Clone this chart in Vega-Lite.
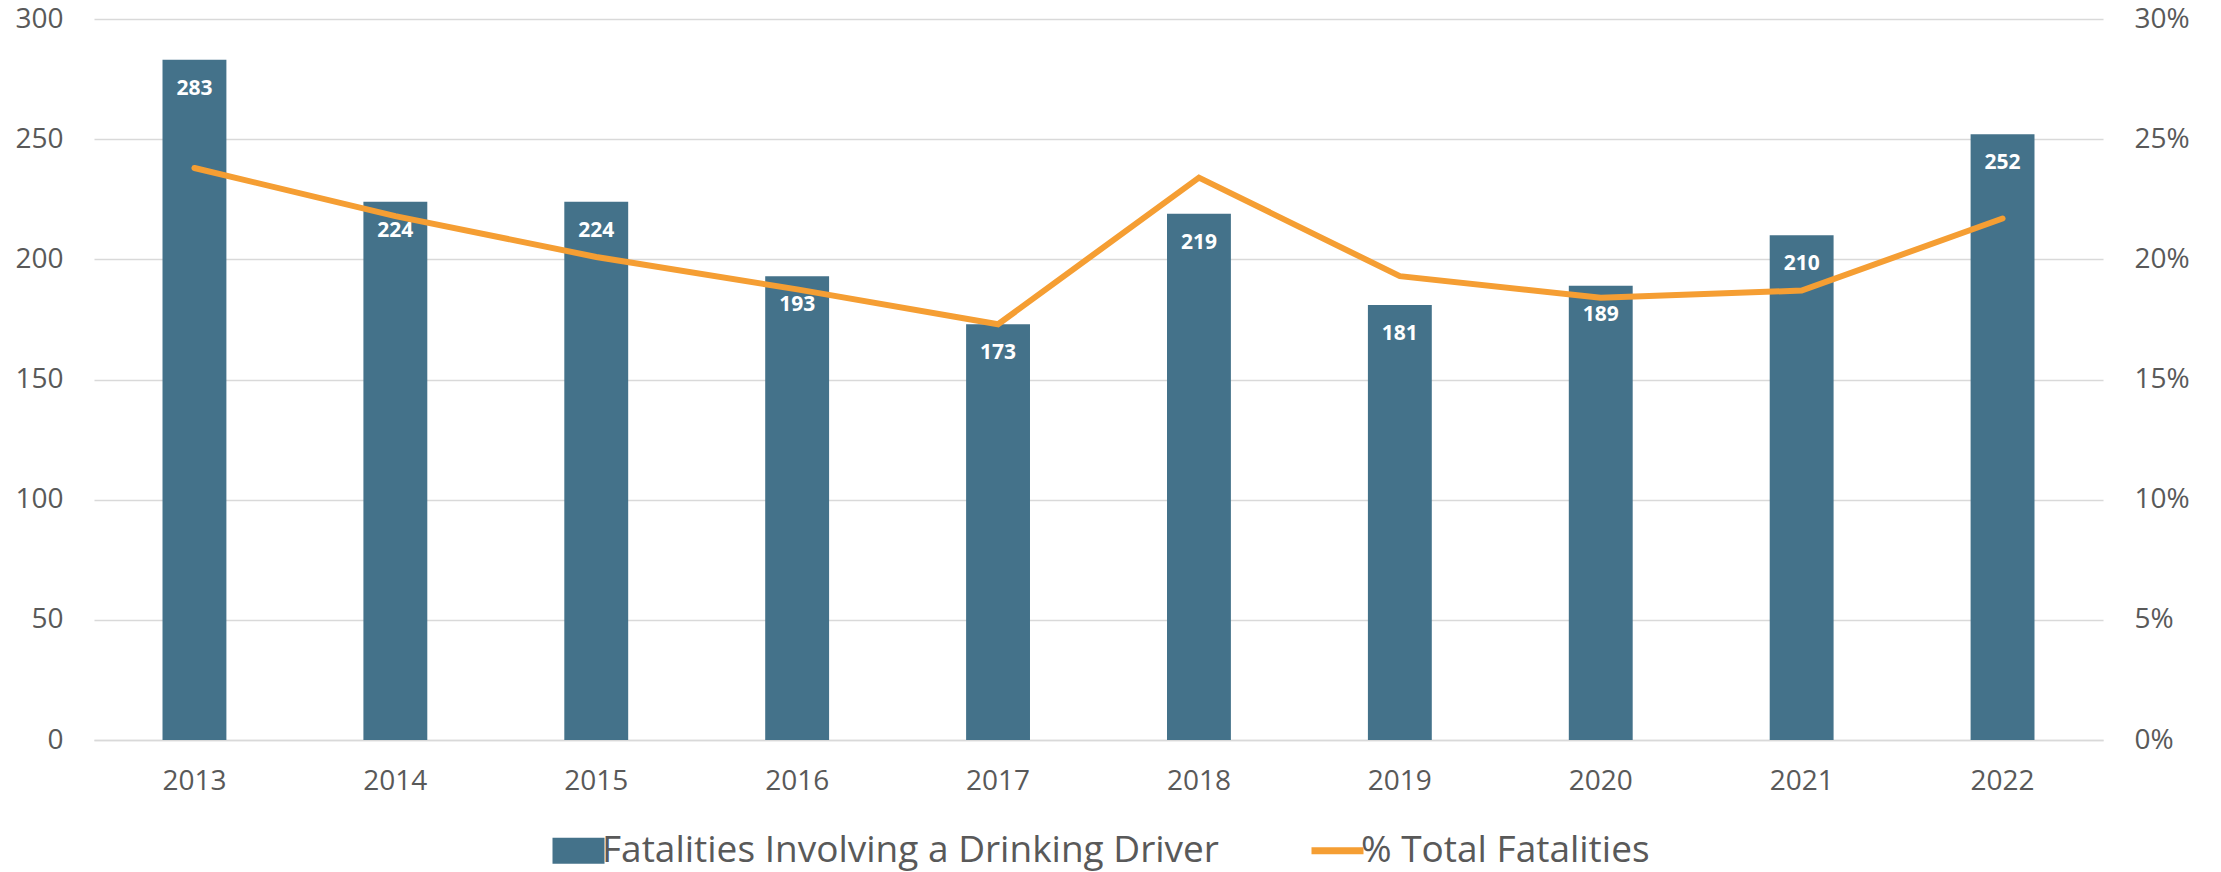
{
  "$schema": "https://vega.github.io/schema/vega-lite/v6.json",
  "width": 2009,
  "height": 721,
  "autosize": {"type": "none"},
  "padding": {"left": 94, "top": 19, "right": 118, "bottom": 132},
  "background": "white",
  "config": {
    "view": {"stroke": null},
    "font": "Open Sans",
    "axis": {"labelFont": "Open Sans", "labelColor": "#595959", "labelFontSize": 28, "ticks": false, "domain": false, "title": null}
  },
  "data": {
    "values": [
      {"year": "2013", "fatalities": 283, "pct": 0.238},
      {"year": "2014", "fatalities": 224, "pct": 0.218},
      {"year": "2015", "fatalities": 224, "pct": 0.201},
      {"year": "2016", "fatalities": 193, "pct": 0.1875},
      {"year": "2017", "fatalities": 173, "pct": 0.173},
      {"year": "2018", "fatalities": 219, "pct": 0.234},
      {"year": "2019", "fatalities": 181, "pct": 0.193},
      {"year": "2020", "fatalities": 189, "pct": 0.184},
      {"year": "2021", "fatalities": 210, "pct": 0.187},
      {"year": "2022", "fatalities": 252, "pct": 0.217}
    ]
  },
  "encoding": {
    "x": {
      "field": "year",
      "type": "ordinal",
      "scale": {"paddingInner": 0.682, "paddingOuter": 0.341},
      "axis": {"labelAngle": 0, "labelPadding": 27, "domain": true, "domainColor": "#d9d9d9", "domainWidth": 1.5}
    }
  },
  "layer": [
    {
      "layer": [
        {
          "mark": {"type": "bar"},
          "encoding": {
            "y": {
              "field": "fatalities",
              "type": "quantitative",
              "scale": {"domain": [0, 300]},
              "axis": {"values": [0, 50, 100, 150, 200, 250, 300], "grid": true, "gridColor": "#d9d9d9", "gridWidth": 1.5, "labelPadding": 31}
            },
            "color": {
              "datum": "Fatalities Involving a Drinking Driver",
              "type": "nominal",
              "scale": {"domain": ["Fatalities Involving a Drinking Driver", "% Total Fatalities"], "range": ["#44728A", "#F59E33"]},
              "legend": {
                "orient": "none",
                "legendX": 466,
                "legendY": 813,
                "direction": "horizontal",
                "title": null,
                "symbolType": "M-1,-0.5H1V0.5H-1Z",
                "symbolSize": 2704,
                "labelFont": "Open Sans",
                "labelFontSize": 37,
                "labelLimit": 0,
                "labelColor": "#595959",
                "labelOffset": 5,
                "columnPadding": 78,
                "encode": {
                  "symbols": {
                    "update": {
                      "shape": {"signal": "datum.value === '% Total Fatalities' ? 'stroke' : 'M-1,-0.5H1V0.5H-1Z'"},
                      "strokeWidth": {"signal": "datum.value === '% Total Fatalities' ? 7 : 0"},
                      "fill": {"signal": "datum.value === '% Total Fatalities' ? 'transparent' : '#44728A'"},
                      "stroke": {"signal": "datum.value === '% Total Fatalities' ? '#F59E33' : 'transparent'"},
                      "opacity": {"value": 1}
                    }
                  }
                }
              }
            }
          }
        },
        {
          "mark": {"type": "text", "color": "white", "fontWeight": "bold", "fontSize": 21, "baseline": "middle", "dy": 29, "font": "Open Sans"},
          "encoding": {
            "y": {"field": "fatalities", "type": "quantitative"},
            "text": {"field": "fatalities", "type": "quantitative"}
          }
        }
      ]
    },
    {
      "mark": {"type": "line", "strokeWidth": 6, "strokeCap": "round", "strokeJoin": "miter"},
      "encoding": {
        "y": {
          "field": "pct",
          "type": "quantitative",
          "scale": {"domain": [0, 0.3]},
          "axis": {"orient": "right", "format": ".0%", "values": [0, 0.05, 0.1, 0.15, 0.2, 0.25, 0.3], "grid": false, "labelPadding": 31}
        },
        "color": {"datum": "% Total Fatalities", "type": "nominal"}
      }
    }
  ],
  "resolve": {"scale": {"y": "independent"}}
}
